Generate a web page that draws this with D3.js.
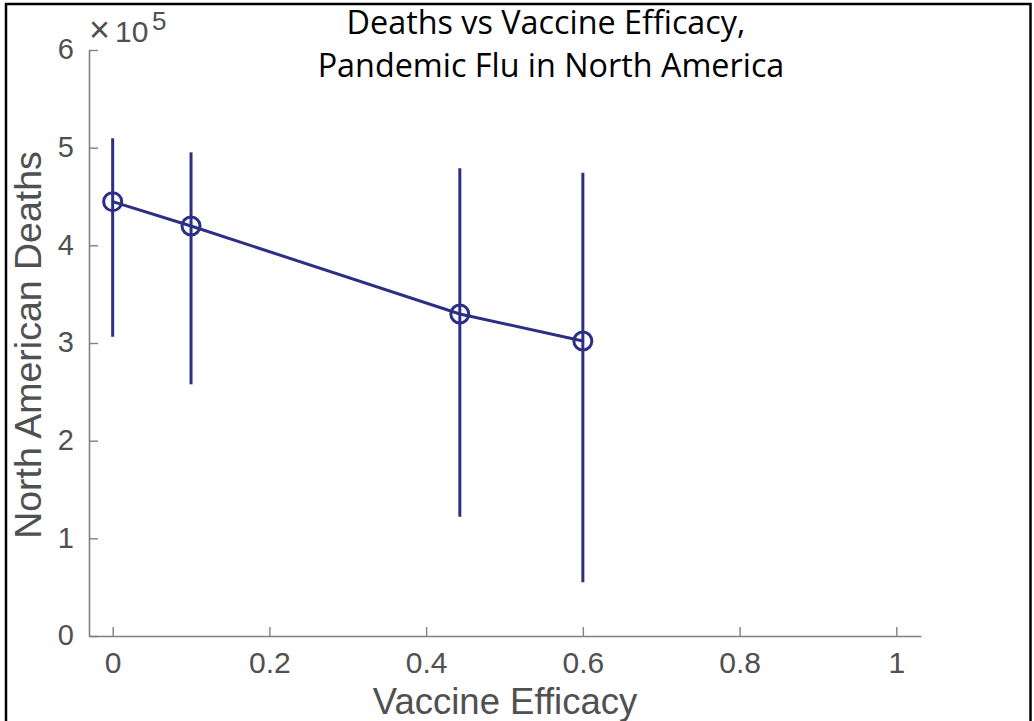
<!DOCTYPE html>
<html>
<head>
<meta charset="utf-8">
<script src="https://cdn.jsdelivr.net/npm/d3@7"></script>
<style>
  html, body { margin: 0; padding: 0; background: #fff; }
  svg { display: block; }
</style>
</head>
<body>
<svg id="chart" width="1034" height="721"></svg>
<script>
// ---- data ----
const efficacy = [0, 0.1, 0.443, 0.6];
const deaths   = [444700, 419800, 329700, 302000];
const lowerCI  = [306400, 257700, 122200, 55000];
const upperCI  = [509600, 495200, 478800, 474400];
const xTicks = [0, 0.2, 0.4, 0.6, 0.8, 1];
const yTicks = [0, 1, 2, 3, 4, 5, 6];
const titleLines = ["Deaths vs Vaccine Efficacy,", "Pandemic Flu in North America"];
const xLabel = "Vaccine Efficacy";
const yLabel = "North American Deaths";

(function () {
const svg = d3.select("#chart");
const mLeft = 89, mRight = 921, mTop = 50, mBottom = 636;
const lineColor = "#2c2f84";
const axisColor = "#808080";
const textColor = "#505050";
const sansFont = "'Liberation Sans', Arial, Helvetica, sans-serif";

// frame
svg.append("rect").attr("x", 6).attr("y", 4).attr("width", 1024.5).attr("height", 740)
  .attr("fill", "none").attr("stroke", "#000").attr("stroke-width", 2.5);

const x = d3.scaleLinear().domain([-0.0302, 1.0315]).range([mLeft, mRight]);
const y = d3.scaleLinear().domain([0, 600000]).range([mBottom, mTop]);

// x axis
const xAxis = d3.axisBottom(x).tickValues(xTicks).tickSizeInner(-9).tickSizeOuter(0)
  .tickPadding(16).tickFormat(d => String(d));
const gx = svg.append("g").attr("transform", `translate(0,${mBottom})`).call(xAxis);
gx.select(".domain").attr("stroke", axisColor).attr("stroke-width", 1.6);
gx.selectAll(".tick line").attr("stroke", axisColor).attr("stroke-width", 1.4);
gx.selectAll(".tick text").attr("fill", textColor).attr("font-family", sansFont)
  .attr("font-size", 30).attr("dy", "0.71em");

// y axis
const yAxis = d3.axisLeft(y).tickValues(yTicks.map(v => v * 1e5)).tickSizeInner(-9).tickSizeOuter(0)
  .tickPadding(15).tickFormat(d => String(Math.round(d / 1e5)));
const gy = svg.append("g").attr("transform", `translate(${mLeft},0)`).call(yAxis);
gy.select(".domain").attr("stroke", axisColor).attr("stroke-width", 1.6);
gy.selectAll(".tick line").attr("stroke", axisColor).attr("stroke-width", 1.4);
gy.selectAll(".tick text").attr("fill", textColor).attr("font-family", sansFont)
  .attr("font-size", 29).attr("dy", "0.3em");

// exponent label
const expo = svg.append("text").attr("y", 42)
  .attr("fill", textColor).attr("font-family", sansFont).attr("font-size", 30);
expo.append("tspan").attr("x", 89).attr("font-size", 36).text("\u00d7");
expo.append("tspan").attr("x", 115).text("10");
expo.append("tspan").attr("x", 152).attr("y", 30).attr("font-size", 26).text("5");

// axis labels
svg.append("text").attr("x", 505).attr("y", 714)
  .attr("text-anchor", "middle").attr("fill", textColor)
  .attr("font-family", sansFont).attr("font-size", 36.5).text(xLabel);
svg.append("text").attr("transform", "translate(41,345) rotate(-90)")
  .attr("text-anchor", "middle").attr("fill", textColor)
  .attr("font-family", sansFont).attr("font-size", 37.5).text(yLabel);

// title
const titleFont = "'Open Sans', 'Noto Sans', sans-serif";
const t1 = svg.append("text").attr("x", 546).attr("y", 34).attr("text-anchor", "middle")
  .attr("font-family", titleFont).attr("font-size", 26).attr("fill", "#000").text(titleLines[0]);
const t2 = svg.append("text").attr("x", 551).attr("y", 77).attr("text-anchor", "middle")
  .attr("font-family", titleFont).attr("font-size", 26).attr("fill", "#000").text(titleLines[1]);
const w2 = t2.node().getComputedTextLength();
const fs = w2 > 0 ? 26 * 467 / w2 : 26;
t1.attr("font-size", fs); t2.attr("font-size", fs);

// data
const pts = efficacy.map((e, i) => ({ e, d: deaths[i], lo: lowerCI[i], hi: upperCI[i] }));

svg.append("g").selectAll("line").data(pts).join("line")
  .attr("x1", p => x(p.e)).attr("x2", p => x(p.e))
  .attr("y1", p => y(p.lo)).attr("y2", p => y(p.hi))
  .attr("stroke", lineColor).attr("stroke-width", 3);

svg.append("path").datum(pts)
  .attr("d", d3.line().x(p => x(p.e)).y(p => y(p.d)))
  .attr("fill", "none").attr("stroke", lineColor).attr("stroke-width", 3);

svg.append("g").selectAll("circle").data(pts).join("circle")
  .attr("cx", p => x(p.e)).attr("cy", p => y(p.d)).attr("r", 9)
  .attr("fill", "none").attr("stroke", lineColor).attr("stroke-width", 3);
})();
</script>
</body>
</html>
